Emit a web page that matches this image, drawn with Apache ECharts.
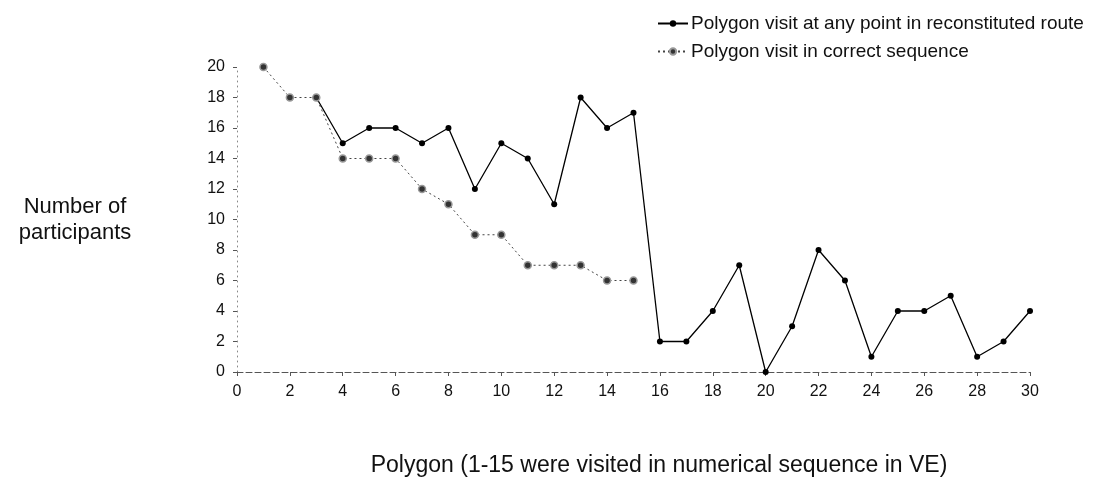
<!DOCTYPE html>
<html>
<head>
<meta charset="utf-8">
<script src="https://cdn.jsdelivr.net/npm/echarts@6/dist/echarts.min.js"></script>
<style>
  html, body { margin: 0; padding: 0; background: #fff; }
  #main { width: 1098px; height: 483px; }
</style>
</head>
<body>
<div id="main"></div>
<script>
// polygon numbers
const polygons = [1, 2, 3, 4, 5, 6, 7, 8, 9, 10, 11, 12, 13, 14, 15, 16, 17, 18, 19, 20, 21, 22, 23, 24, 25, 26, 27, 28, 29, 30];
// visited at any point in reconstituted route (solid line only drawn from polygon 3)
const anyPoint = [null, null, 18, 15, 16, 16, 15, 16, 12, 15, 14, 11, 18, 16, 17, 2, 2, 4, 7, 0, 3, 8, 6, 1, 4, 4, 5, 1, 2, 4];
// visited in correct sequence (polygons 1-15)
const correctSeq = [20, 18, 18, 14, 14, 14, 12, 11, 9, 9, 7, 7, 7, 6, 6];

const seriesNames = ['Polygon visit at any point in reconstituted route', 'Polygon visit in correct sequence'];

const font = 'Liberation Sans, Arial, sans-serif';
const myChart = echarts.init(document.getElementById('main'));

myChart.setOption({
  animation: false,
  textStyle: { fontFamily: font },
  title: [
    {
      text: 'Number of\nparticipants',
      left: 70,
      top: 189,
      textAlign: 'center',
      textStyle: { fontFamily: font, fontSize: 22, fontWeight: 'normal', color: '#111', lineHeight: 26 },
    },
    {
      text: 'Polygon (1-15 were visited in numerical sequence in VE)',
      left: 654,
      top: 449,
      textAlign: 'center',
      textStyle: { fontFamily: font, fontSize: 23, fontWeight: 'normal', color: '#111' },
    },
  ],
  legend: {
    orient: 'vertical',
    left: 652,
    top: 9,
    itemGap: 9,
    itemWidth: 30,
    itemHeight: 8,
    textStyle: { fontFamily: font, fontSize: 19, color: '#111', padding: [0, 0, 0, -2] },
    data: [seriesNames[0], seriesNames[1]],
  },
  grid: {
    left: 237,
    right: 68,
    top: 67,
    bottom: 111,
    containLabel: false,
  },
  xAxis: {
    type: 'value',
    min: 0,
    max: 30,
    interval: 2,
    axisLine: {
      show: true,
      lineStyle: { color: '#555', width: 1, type: [6, 3] },
    },
    axisTick: { show: true, length: 4, lineStyle: { color: '#555' } },
    axisLabel: { color: '#111', fontSize: 16, margin: 12 },
    splitLine: { show: false },
  },
  yAxis: {
    type: 'value',
    min: 0,
    max: 20,
    interval: 2,
    axisLine: {
      show: true,
      lineStyle: { color: '#888', width: 1, type: [1, 4] },
    },
    axisTick: { show: true, length: 4, lineStyle: { color: '#555' } },
    axisLabel: { color: '#111', fontSize: 16, margin: 12 },
    splitLine: { show: false },
  },
  series: [
    {
      name: seriesNames[0],
      type: 'line',
      data: anyPoint.map((v, i) => [polygons[i], v]),
      symbol: 'circle',
      symbolSize: 6,
      itemStyle: { color: '#000' },
      lineStyle: { color: '#000', width: 1.3 },
      z: 2,
    },
    {
      name: seriesNames[1],
      type: 'line',
      data: correctSeq.map((v, i) => [polygons[i], v]),
      symbol: 'circle',
      symbolSize: 7,
      itemStyle: { color: '#333', borderColor: '#999', borderWidth: 1.5 },
      lineStyle: { color: '#444', width: 1, type: [2, 3] },
      z: 3,
    },
  ],
});
</script>
</body>
</html>
